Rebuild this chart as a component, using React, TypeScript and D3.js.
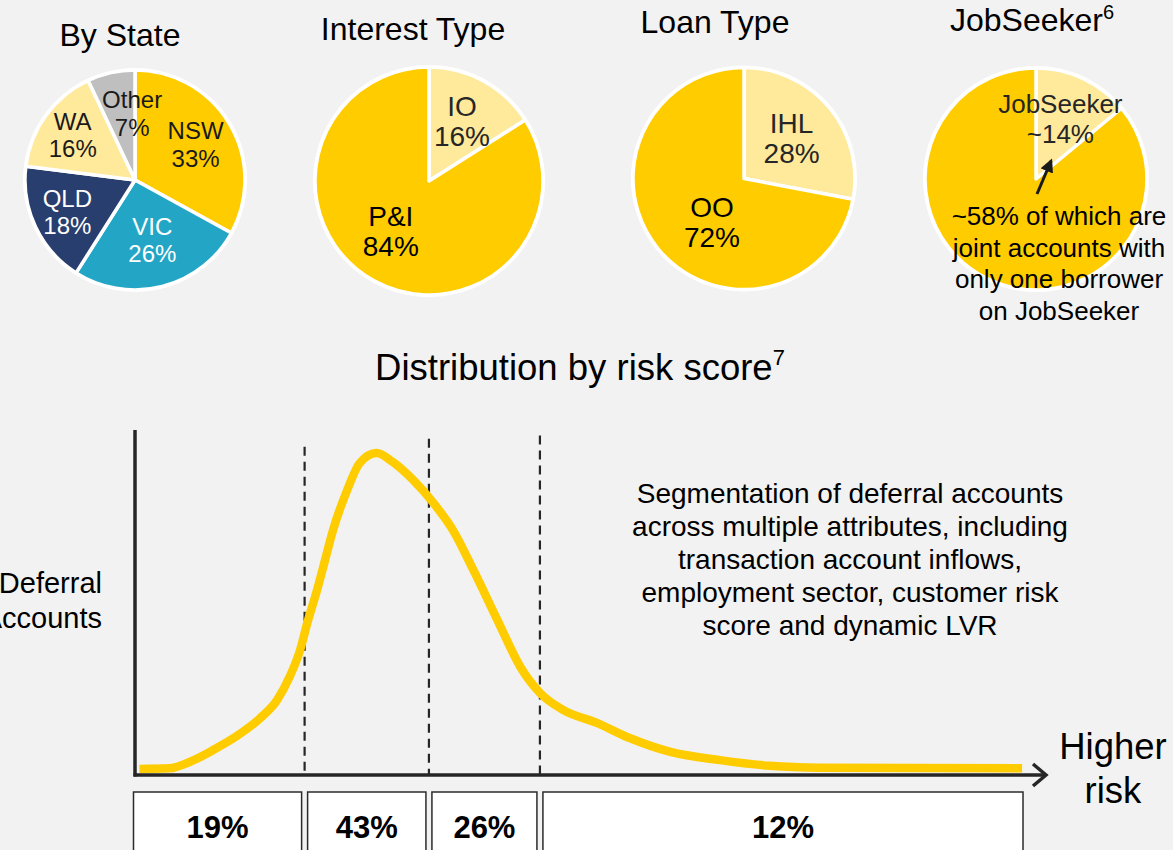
import React from 'react';
import * as d3 from 'd3';

// ---------- DATA ----------
const stateCategories = ['NSW', 'VIC', 'QLD', 'WA', 'Other'];
const stateValues = [33, 26, 18, 16, 7];
const interestCategories = ['IO', 'P&I'];
const interestValues = [16, 84];
const loanCategories = ['IHL', 'OO'];
const loanValues = [28, 72];
const jobSeekerCategories = ['JobSeeker', 'Not JobSeeker'];
const jobSeekerValues = [14, 86];
const jobSeekerLabel = '~14%';
const jobSeekerNote = ['~58% of which are', 'joint accounts with', 'only one borrower', 'on JobSeeker'];

// risk score distribution (score 0-100, relative density 0-100)
const riskScores = [0.5, 3.9, 6.2, 8.8, 11.5, 14.1, 16.0, 17.4, 18.6, 19.4, 20.5, 21.4, 22.3, 23.9, 25.3, 27.2, 29.0, 31.3, 33.6, 35.8, 38.1, 40.8, 43.4, 45.6, 48.2, 52.0, 55.7, 60.3, 65.9, 71.5, 77.1, 99.9];
const riskDensity = [0, 0.2, 2.3, 6.0, 10.5, 16.1, 21.8, 29.1, 37.7, 46.2, 56.6, 66.1, 75.6, 88.3, 96.8, 100, 97.2, 91.5, 84.2, 75.6, 63, 47.2, 32.3, 24.1, 18.7, 14.6, 9.8, 5.4, 2.8, 1.0, 0.4, 0.2];
const segmentBounds = [0, 19.1, 33.1, 45.6, 100];
const segmentShares = ['19%', '43%', '26%', '12%'];
const dividerTops = [102, 104.5, 105.5];
const segmentationNote = [
  'Segmentation of deferral accounts',
  'across multiple attributes, including',
  'transaction account inflows,',
  'employment sector, customer risk',
  'score and dynamic LVR',
];

// ---------- STYLE ----------
const FONT = "'Liberation Sans', Arial, Helvetica, sans-serif";
const BG = '#F2F2F2';
const YELLOW = '#FFCC00';
const LIGHT = '#FFE99B';
const TEAL = '#23A6C5';
const NAVY = '#283E6E';
const GREY = '#BFBFBF';
const INK = '#1A1A1A';

type LabelStyle = { r: number; dx?: number; dy?: number; color: string; show: boolean; lines?: string[] };

function Pie(props: {
  cx: number; cy: number; radius: number;
  cats: string[]; vals: number[]; colors: string[];
  labels: LabelStyle[]; fontSize: number; lineH: number;
}) {
  const { cx, cy, radius, cats, vals, colors, labels, fontSize, lineH } = props;
  const arcs = d3.pie<number>().sort(null).value((d) => d)(vals);
  const arc = d3.arc<d3.PieArcDatum<number>>().innerRadius(0).outerRadius(radius);
  return (
    <g transform={`translate(${cx},${cy})`}>
      <circle r={radius + 2} fill="#FFFFFF" />
      {arcs.map((a, i) => (
        <path key={i} d={arc(a) || ''} fill={colors[i]} stroke="#FFFFFF" strokeWidth={3.5} strokeLinejoin="round" />
      ))}
      {arcs.map((a, i) => {
        const ls = labels[i];
        if (!ls.show) return null;
        const la = d3.arc<d3.PieArcDatum<number>>().innerRadius(radius * ls.r).outerRadius(radius * ls.r);
        const [x, y] = la.centroid(a);
        const lines = ls.lines || [cats[i], `${vals[i]}%`];
        return (
          <text key={'t' + i} x={x + (ls.dx || 0)} y={y + (ls.dy || 0)} textAnchor="middle"
            fontFamily={FONT} fontSize={fontSize} fill={ls.color}>
            {lines.map((ln, j) => (
              <tspan key={j} x={x + (ls.dx || 0)} dy={j === 0 ? `${-((lines.length - 1) / 2) * lineH + fontSize * 0.36}` : `${lineH}`}>{ln}</tspan>
            ))}
          </text>
        );
      })}
    </g>
  );
}

export default function App() {
  const W = 1173, H = 850;

  // bottom chart scales
  const x = d3.scaleLinear().domain([0, 100]).range([135, 1023]);
  const y = d3.scaleLinear().domain([0, 100]).range([769, 453]);
  const axisY = 775;
  const line = d3.line<number>()
    .x((_, i) => x(riskScores[i]))
    .y((d) => y(d))
    .curve(d3.curveMonotoneX);

  return (
    <svg width={W} height={H} style={{ position: 'absolute', left: 0, top: 0, display: 'block' }}
      fontFamily={FONT}>
      <rect x={0} y={0} width={W} height={H} fill={BG} />

      {/* Titles */}
      <text x={120} y={46} textAnchor="middle" fontSize={32} fill="#000">By State</text>
      <text x={413} y={40} textAnchor="middle" fontSize={32} fill="#000">Interest Type</text>
      <text x={715} y={33} textAnchor="middle" fontSize={32} fill="#000">Loan Type</text>
      <text x={1032} y={31} textAnchor="middle" fontSize={32} fill="#000">
        JobSeeker<tspan fontSize={20} dy={-12}>6</tspan>
      </text>

      <Pie cx={135} cy={180} radius={110}
        cats={stateCategories} vals={stateValues}
        colors={[YELLOW, TEAL, NAVY, LIGHT, GREY]}
        fontSize={24} lineH={27.5}
        labels={[
          { r: 0.64, color: INK, show: true },
          { r: 0.56, dx: 2, color: '#FFFFFF', show: true },
          { r: 0.68, color: '#FFFFFF', show: true },
          { r: 0.7, color: INK, show: true },
          { r: 0.62, dx: 12, color: INK, show: true },
        ]} />

      <Pie cx={429} cy={181} radius={114}
        cats={interestCategories} vals={interestValues}
        colors={[LIGHT, YELLOW]}
        fontSize={28} lineH={30}
        labels={[
          { r: 0.6, color: '#262626', show: true },
          { r: 0.55, dx: -8, dy: -5, color: '#000', show: true },
        ]} />

      <Pie cx={744} cy={178.5} radius={111}
        cats={loanCategories} vals={loanValues}
        colors={[LIGHT, YELLOW]}
        fontSize={28} lineH={30}
        labels={[
          { r: 0.58, dx: -2, color: '#262626', show: true },
          { r: 0.48, dx: 9, dy: 9, color: '#000', show: true },
        ]} />

      <Pie cx={1036} cy={179} radius={111}
        cats={jobSeekerCategories} vals={jobSeekerValues}
        colors={[LIGHT, YELLOW]}
        fontSize={26} lineH={30}
        labels={[
          { r: 0.6, dx: -4, color: '#262626', show: true, lines: [jobSeekerCategories[0], jobSeekerLabel] },
          { r: 0.5, color: INK, show: false },
        ]} />

      {/* JobSeeker arrow + note */}
      <defs>
        <marker id="ah" viewBox="0 0 10 10" refX="8" refY="5" markerWidth="4.5" markerHeight="4.5" orient="auto-start-reverse">
          <path d="M0,0 L10,5 L0,10 z" fill={INK} />
        </marker>
      </defs>
      <line x1={1037} y1={194} x2={1051} y2={161} stroke={INK} strokeWidth={3} markerEnd="url(#ah)" />
      <text textAnchor="middle" fontSize={26} fill="#000">
        {jobSeekerNote.map((t, i) => (
          <tspan key={i} x={1059} y={225 + i * 31.7}>{t}</tspan>
        ))}
      </text>

      {/* Distribution title */}
      <text x={580} y={380} textAnchor="middle" fontSize={36.5} fill="#000">
        Distribution by risk score<tspan fontSize={22} dy={-15}>7</tspan>
      </text>

      {/* Y label */}
      <text textAnchor="end" fontSize={29} fill="#000">
        <tspan x={102} y={593}>Deferral</tspan>
        <tspan x={102} y={628}>Accounts</tspan>
      </text>

      {/* divider dashed lines */}
      {segmentBounds.slice(1, -1).map((b, i) => (
        <line key={i} x1={x(b)} x2={x(b)} y1={y(dividerTops[i])} y2={axisY}
          stroke="#262626" strokeWidth={2.2} strokeDasharray="9 6" />
      ))}

      {/* curve */}
      <path d={line(riskDensity) || ''} fill="none" stroke={YELLOW} strokeWidth={8.5} strokeLinecap="butt" strokeLinejoin="round" />

      {/* axes */}
      <line x1={135} x2={135} y1={430} y2={axisY + 1.5} stroke="#262626" strokeWidth={3.5} />
      <line x1={133.5} x2={1045} y1={axisY} y2={axisY} stroke="#262626" strokeWidth={3.5} />
      <path d={`M1033,${axisY - 11} L1046,${axisY} L1033,${axisY + 11}`} fill="none" stroke="#262626" strokeWidth={3.5} />

      <text textAnchor="middle" fontSize={36.5} fill="#000">
        <tspan x={1113} y={759}>Higher</tspan>
        <tspan x={1113} y={803}>risk</tspan>
      </text>

      {/* annotation */}
      <text textAnchor="middle" fontSize={28} fill="#000">
        {segmentationNote.map((t, i) => (
          <tspan key={i} x={850} y={503 + i * 33}>{t}</tspan>
        ))}
      </text>

      {/* segment boxes */}
      {segmentShares.map((s, i) => {
        const gap = 3;
        const x0 = i === 0 ? x(segmentBounds[i]) - 1.5 : x(segmentBounds[i]) + gap;
        const x1 = i === segmentShares.length - 1 ? x(segmentBounds[i + 1]) : x(segmentBounds[i + 1]) - gap;
        return (
          <g key={i}>
            <rect x={x0} y={792} width={x1 - x0} height={80} fill="#FFFFFF" stroke="#2B2B2B" strokeWidth={1.5} />
            <text x={(x0 + x1) / 2} y={838} textAnchor="middle" fontSize={31} fontWeight="bold" fill="#000">{s}</text>
          </g>
        );
      })}
    </svg>
  );
}
